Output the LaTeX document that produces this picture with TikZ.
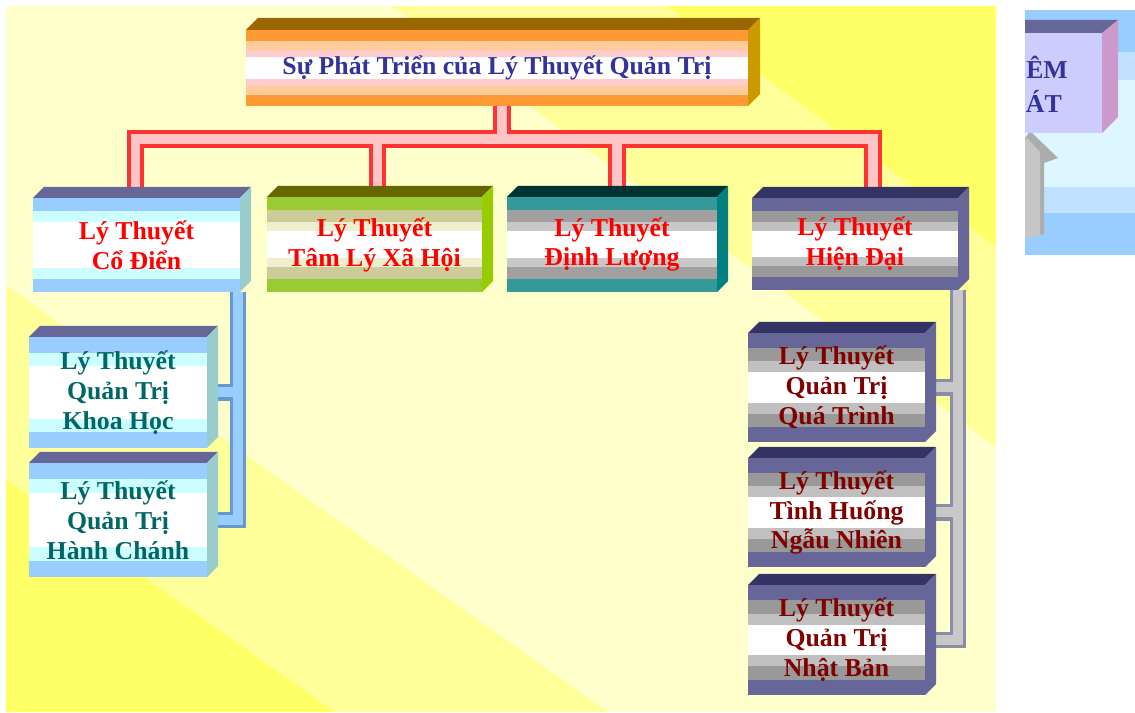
\documentclass[tikz,border=0pt]{standalone}
\usepackage{fontspec}
\setmainfont{Liberation Serif}
\usetikzlibrary{fit,calc}
\pgfdeclarelayer{nen}
\pgfdeclarelayer{ong}
\pgfsetlayers{nen,ong,main}

\definecolor{camA}{HTML}{FF9933}
\definecolor{camB}{HTML}{FFCC99}
\definecolor{camC}{HTML}{FFCCCC}
\definecolor{camTop}{HTML}{996600}
\definecolor{camSide}{HTML}{CC9900}
\definecolor{xanhA}{HTML}{99CCFF}
\definecolor{xanhB}{HTML}{CCFFFF}
\definecolor{xanhC}{HTML}{FFFFFF}
\definecolor{xanhTop}{HTML}{666699}
\definecolor{xanhSide}{HTML}{99CCCC}
\definecolor{laA}{HTML}{99CC33}
\definecolor{laB}{HTML}{CCCC99}
\definecolor{laC}{HTML}{EFEFD0}
\definecolor{laTop}{HTML}{666600}
\definecolor{laSide}{HTML}{99CC00}
\definecolor{lamA}{HTML}{339999}
\definecolor{lamB}{HTML}{A0A0A0}
\definecolor{lamC}{HTML}{C8C8C8}
\definecolor{lamTop}{HTML}{003333}
\definecolor{lamSide}{HTML}{008080}
\definecolor{timA}{HTML}{666699}
\definecolor{timB}{HTML}{999999}
\definecolor{timC}{HTML}{C0C0C0}
\definecolor{timTop}{HTML}{333366}
\definecolor{timSide}{HTML}{666699}
\definecolor{chuxanh}{HTML}{333399}
\definecolor{chudo}{HTML}{FF0000}
\definecolor{chuteal}{HTML}{006666}
\definecolor{chunau}{HTML}{800000}
\definecolor{vangnhat}{HTML}{FFFFCC}
\definecolor{vangvua}{HTML}{FFFF99}
\definecolor{vangdam}{HTML}{FFFF66}
\definecolor{dodam}{HTML}{FF3333}
\definecolor{hongnhat}{HTML}{FFC4C4}
\definecolor{xanhdam}{HTML}{6699CC}
\definecolor{xanhnhat}{HTML}{99CCFF}
\definecolor{xamdam}{HTML}{8C8CA8}
\definecolor{xamnhat}{HTML}{C8C8C8}
\definecolor{lamnen}{HTML}{99CCFF}
\definecolor{lamcham}{HTML}{BFE0FF}
\definecolor{lamsang}{HTML}{DDF6FF}
\definecolor{tiemnhat}{HTML}{CCCCFF}
\definecolor{tiemsuon}{HTML}{CC99CC}

% 3D box: [depth]{name}{x1}{y1}{x2}{y2}{scheme}
\newcommand{\khoi}[7][11]{%
  \fill[white] (#3,#4) rectangle (#5,#6);
  \foreach \tu/\den/\mau in {0/0.14/A,0.14/0.26/B,0.26/0.36/C,0.64/0.74/C,0.74/0.86/B,0.86/1/A}
    \fill[fill=#7\mau] (#3,{#4+\tu*(#6-#4)}) rectangle (#5,{#4+\den*(#6-#4)});
  \fill[fill=#7Top] (#3,#4) -- (#3+#1,#4-#1) -- (#5+#1,#4-#1) -- (#5,#4) -- cycle;
  \fill[fill=#7Side] (#5,#4) -- (#5+#1,#4-#1) -- (#5+#1,#6-#1) -- (#5,#6) -- cycle;
  \node[fit={(#3,#4) (#5,#6)}, inner sep=0pt, outer sep=0pt] (#2) {};
}

\begin{document}
\begin{tikzpicture}[x=0.03cm, y=-0.03cm,
                    chu/.style={font=\bfseries\fontsize{22}{25.5}\selectfont, align=center, inner sep=0pt},
                    ongdo/.style={draw=hongnhat, line width=0.28cm, preaction={draw=dodam, line width=0.52cm}},
                    ongxanh/.style={draw=xanhnhat, line width=0.3cm, preaction={draw=xanhdam, line width=0.5cm}},
                    ongxam/.style={draw=xamnhat, line width=0.3cm, preaction={draw=xamdam, line width=0.5cm}}]
  \useasboundingbox (0,0) rectangle (1135,713);
  \begin{pgfonlayer}{nen}
    \fill[white] (0,0) rectangle (1135,713);
    \fill[vangnhat] (6,6) rectangle (996,712);
    \fill[vangvua] (392,6) -- (667,6) -- (996,247) -- (996,447) -- cycle;
    \fill[vangdam] (667,6) -- (996,6) -- (996,247) -- cycle;
    \fill[vangvua] (6,285) -- (608,712) -- (6,712) -- cycle;
    \fill[vangdam] (6,480) -- (335,712) -- (6,712) -- cycle;
  \end{pgfonlayer}

  \khoi[12]{top}{246}{30}{748}{106}{cam}
  \khoi{codien}{33}{198}{240}{292}{xanh}
  \khoi{tamly}{267}{197}{482}{292}{la}
  \khoi{dinhluong}{507}{197}{717}{292}{lam}
  \khoi{hiendai}{752}{198}{958}{290}{tim}
  \khoi{khoahoc}{29}{337}{207}{448}{xanh}
  \khoi{hanhchanh}{29}{463}{207}{577}{xanh}
  \khoi{quatrinh}{748}{333}{925}{442}{tim}
  \khoi{tinhhuong}{748}{458}{925}{567}{tim}
  \khoi{nhatban}{748}{585}{925}{695}{tim}

  \node[chu, text=chuxanh] (top-chu) at (top) {Sự Phát Triển của Lý Thuyết Quản Trị};
  \node[chu, text=chudo] (codien-chu) at (codien) {Lý Thuyết\\Cổ Điển};
  \node[chu, text=chudo] (tamly-chu) at (tamly) {Lý Thuyết\\Tâm Lý Xã Hội};
  \node[chu, text=chudo] (dinhluong-chu) at (dinhluong) {Lý Thuyết\\Định Lượng};
  \node[chu, text=chudo] (hiendai-chu) at (hiendai) {Lý Thuyết\\Hiện Đại};
  \node[chu, text=chuteal] (khoahoc-chu) at (khoahoc) {Lý Thuyết\\Quản Trị\\Khoa Học};
  \node[chu, text=chuteal] (hanhchanh-chu) at (hanhchanh) {Lý Thuyết\\Quản Trị\\Hành Chánh};
  \node[chu, text=chunau] (quatrinh-chu) at (quatrinh) {Lý Thuyết\\Quản Trị\\Quá Trình};
  \node[chu, text=chunau] (tinhhuong-chu) at (tinhhuong) {Lý Thuyết\\Tình Huống\\Ngẫu Nhiên};
  \node[chu, text=chunau] (nhatban-chu) at (nhatban) {Lý Thuyết\\Quản Trị\\Nhật Bản};

  \begin{pgfonlayer}{ong}
    \draw[ongdo] ($(top.south)+(5,0)$) -- ++(0,33) coordinate (bus)
      (bus) -| ($(codien.north)+(-1,0)$)
      (bus) -| ($(tamly.north)+(3,0)$)
      (bus) -| ($(dinhluong.north)+(5,0)$)
      (bus) -| ($(hiendai.north)+(18,0)$);
    \draw[ongxanh] ($(codien.south east)+(-2,0)$) |- (khoahoc.east)
      ($(codien.south east)+(-2,0)$) |- (hanhchanh.east);
    \draw[ongxam] (hiendai.south east) |- (quatrinh.east)
      (hiendai.south east) |- (tinhhuong.east)
      (hiendai.south east) |- (nhatban.east);
  \end{pgfonlayer}

  \begin{scope}
    \clip (1025,10) rectangle (1135,255);
    \fill[lamnen] (1025,10) rectangle (1135,255);
    \fill[lamcham] (1025,52) rectangle (1135,213);
    \fill[lamsang] (1025,80) rectangle (1135,187);
    \fill[gray!65] (1010,160) -- (1030,131) -- (1058,158) -- (1044,163) -- (1044,234) -- (1010,240) -- cycle;
    \fill[gray!45] (1010,163) -- (1027,138) -- (1040,152) -- (1040,236) -- (1010,240) -- cycle;
    \fill[tiemnhat] (1000,33) rectangle (1102,133);
    \fill[timA] (1000,33) -- (1013,20) -- (1118,20) -- (1102,33) -- cycle;
    \fill[tiemsuon] (1102,33) -- (1118,20) -- (1118,117) -- (1102,133) -- cycle;
    \node[chu, text=chuxanh, anchor=base east] (diem) at (1068,79) {ÊM};
    \node[chu, text=chuxanh, anchor=base east] (chat) at (1062,113) {ÁT};
  \end{scope}
\end{tikzpicture}
\end{document}
